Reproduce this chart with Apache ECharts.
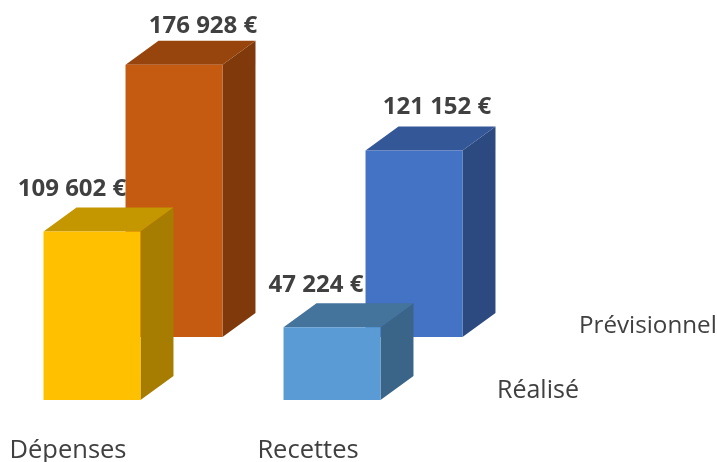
<!DOCTYPE html>
<html><head><meta charset="utf-8">
<style>html,body{margin:0;padding:0;background:#fff}#c{width:717px;height:462px}</style>
<script src="https://cdn.jsdelivr.net/npm/echarts@6/dist/echarts.min.js"></script>
</head><body><div id="c"></div>
<script>
const categories = ['Dépenses', 'Recettes'];
const realise = [109602, 47224];
const previsionnel = [176928, 121152];
const seriesNames = ['Réalisé', 'Prévisionnel'];
const realiseColors = [
  {front:'#FFC000', side:'#A67D00', top:'#C49600'},
  {front:'#5B9BD5', side:'#3B6588', top:'#44739B'}
];
const previsionnelColors = [
  {front:'#C55A11', side:'#80390A', top:'#97450D'},
  {front:'#4472C4', side:'#2C4A80', top:'#345797'}
];
const FONT = '"Open Sans", sans-serif';
const fmt = v => String(v).replace(/\B(?=(\d{3})+$)/g, ' ') + ' €';

function bar3d(colors, shift, labelShift) {
  return function (params, api) {
    const i = api.value(0);
    const top = api.coord([i, api.value(1)]);
    const base = api.coord([i, 0]);
    const band = api.size([1, 0])[0];
    const w = band * 0.404;
    const x0 = top[0] + band * 0.1 - w / 2 + shift[0];
    const x1 = x0 + w;
    const y0 = top[1] + shift[1];
    const y1 = base[1] + shift[1];
    const dx = 33, dy = -24;
    const c = colors[i];
    const poly = (points, fill) => ({type:'polygon', shape:{points}, style:{fill}});
    return {type:'group', children:[
      poly([[x1,y0],[x1+dx,y0+dy],[x1+dx,y1+dy],[x1,y1]], c.side),
      poly([[x0,y0],[x0+dx,y0+dy],[x1+dx,y0+dy],[x1,y0]], c.top),
      poly([[x0,y0],[x1,y0],[x1,y1],[x0,y1]], c.front),
      {type:'text', style:{
        text: fmt(api.value(1)),
        x: (x0+x1)/2 + labelShift[i][0], y: y0 + labelShift[i][1],
        align:'center', verticalAlign:'middle',
        font:'bold 24px ' + FONT, fill:'#404040'
      }}
    ]};
  };
}

const chart = echarts.init(document.getElementById('c'), null, {renderer:'canvas'});
chart.setOption({
  animation:false,
  grid:{left:68, right:409, top:0, height:400, containLabel:false, outerBoundsMode:'none'},
  xAxis:{type:'category', data:categories, boundaryGap:false,
    axisLine:{show:false}, axisTick:{show:false}, splitLine:{show:false},
    axisLabel:{show:true, interval:0, margin:38, fontSize:25.5, color:'#404040', fontFamily:FONT, hideOverlap:false, alignMinLabel:'center', alignMaxLabel:'center'}},
  yAxis:{type:'value', min:0, max:260000, show:false},
  series:[
    {type:'custom', name:seriesNames[1], clip:false, z:2,
      renderItem: bar3d(previsionnelColors,[82,-63],[[29,-39],[23,-43]]),
      data: previsionnel.map((v,i)=>[i,v]), encode:{x:0,y:1}},
    {type:'custom', name:seriesNames[0], clip:false, z:3,
      renderItem: bar3d(realiseColors,[0,0],[[-20,-42],[-16,-42]]),
      data: realise.map((v,i)=>[i,v]), encode:{x:0,y:1}}
  ],
  graphic:[
    {type:'text', left:497, top:378, style:{text:seriesNames[0], font:'25px '+FONT, fill:'#404040'}},
    {type:'text', left:579, top:314, style:{text:seriesNames[1], font:'24.2px '+FONT, fill:'#404040'}}
  ]
});
</script></body></html>
